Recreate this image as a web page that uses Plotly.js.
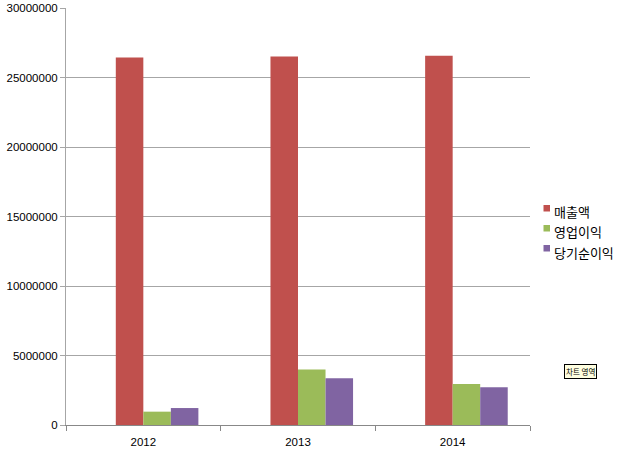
<!DOCTYPE html>
<html>
<head>
<meta charset="utf-8">
<script src="https://cdn.plot.ly/plotly-3.0.1.min.js"></script>
<style>
  html, body { margin: 0; padding: 0; background: #fff; }
  #chart { width: 620px; height: 458px; }
</style>
</head>
<body>
<div id="chart"></div>
<script>
// categories and series
const years = ['2012', '2013', '2014'];
const seriesNames = ['매출액', '영업이익', '당기순이익'];
const sales = [26440000, 26510000, 26560000];
const operatingProfit = [960000, 4000000, 2950000];
const netIncome = [1220000, 3360000, 2710000];
const seriesColors = ['#C0504D', '#9BBB59', '#8064A2'];

// plot box in pixels (620x458 page)
const W = 620, H = 458;
const M = { l: 66, r: 90, t: 8, b: 33 };
const plotW = W - M.l - M.r, plotH = H - M.t - M.b;
const px = x => (x - M.l) / plotW;          // page px -> paper x
const py = y => (H - M.b - y) / plotH;      // page px -> paper y

// the source chart leaves an empty slot before the first bar, so the group sits right of centre
const barW = 0.178;
const barOffsets = [-1, 0, 1].map(k => k * barW);

const tickFont = { family: 'Liberation Sans, Arial, sans-serif', size: 11.5, color: '#000' };
const legendFont = { family: 'Noto Sans CJK KR, sans-serif', size: 13, color: '#000' };

const traces = [sales, operatingProfit, netIncome].map((vals, i) => ({
    type: 'bar',
    x: years,
    y: vals,
    name: seriesNames[i],
    width: barW,
    offset: barOffsets[i],
    marker: { color: seriesColors[i] },
    hoverinfo: 'none',
    showlegend: false
}));

// hand-made legend: small square + label, like the Excel one
const legendShapes = seriesNames.map((_, i) => ({
    type: 'rect', xref: 'paper', yref: 'paper', layer: 'above',
    x0: px(543.5), x1: px(550), y0: py(205 + i * 20), y1: py(211.5 + i * 20),
    fillcolor: seriesColors[i], line: { width: 0 }
}));
const legendLabels = seriesNames.map((name, i) => ({
    text: name, xref: 'paper', yref: 'paper',
    x: px(552), y: py(211 + i * 20.5),
    xanchor: 'left', yanchor: 'middle',
    showarrow: false, font: legendFont
}));

const layout = {
    width: W,
    height: H,
    margin: { ...M, autoexpand: false },
    paper_bgcolor: '#fff',
    plot_bgcolor: '#fff',
    barmode: 'overlay',
    showlegend: false,
    xaxis: {
        type: 'category',
        showgrid: false,
        showline: true,
        linecolor: '#888',
        linewidth: 1,
        ticks: 'outside',
        tickson: 'boundaries',
        ticklen: 5,
        tickcolor: '#888',
        tickfont: tickFont,
        ticklabelstandoff: 6,
        fixedrange: true
    },
    yaxis: {
        range: [0, 30000000],
        dtick: 5000000,
        tickformat: 'd',
        showgrid: true,
        gridcolor: '#a6a6a6',
        showline: true,
        linecolor: '#a6a6a6',
        ticks: 'outside',
        ticklen: 5,
        tickcolor: '#a6a6a6',
        tickfont: tickFont,
        zeroline: false,
        fixedrange: true
    },
    shapes: legendShapes,
    annotations: [...legendLabels, {
        text: '차트 영역',
        xref: 'paper', yref: 'paper',
        x: px(580), y: py(371),
        xanchor: 'center', yanchor: 'middle',
        showarrow: false,
        font: { family: 'Noto Sans CJK KR, sans-serif', size: 7.5, color: '#000' },
        bgcolor: '#FFFFE1',
        bordercolor: '#000',
        borderwidth: 1,
        borderpad: 1
    }]
};

Plotly.newPlot('chart', traces, layout, { displayModeBar: false, staticPlot: true });
</script>
</body>
</html>
